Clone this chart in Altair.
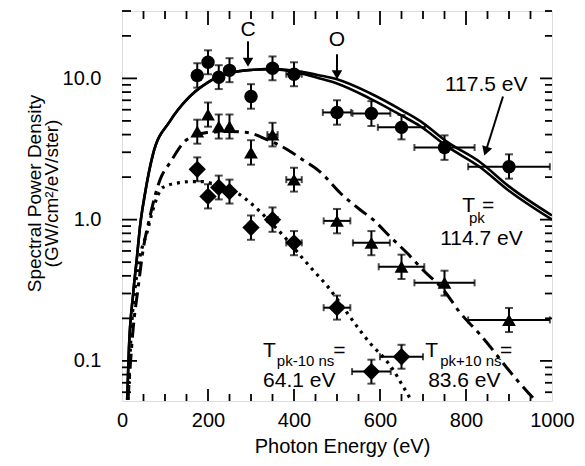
import altair as alt
import pandas as pd

# ---------------- data ----------------
E_pts = [175, 200, 225, 250, 300, 350, 400, 500, 580, 650, 750, 900]

circ_y  = [10.5, 13.0, 10.2, 11.4, 7.45, 11.8, 10.7, 5.74, 5.65, 4.5, 3.24, 2.37]
circ_lo = [8.6, 10.7, 8.4, 9.4, 6.1, 9.7, 8.8, 4.7, 4.6, 3.7, 2.65, 1.95]
circ_hi = [12.8, 15.8, 12.4, 13.9, 9.1, 14.3, 13.0, 7.0, 6.9, 5.5, 3.95, 2.9]
circ_dx = [0, 0, 0, 0, 0, 12, 18, 33, 44, 55, 70, 95]

tri_y  = [4.21, 5.55, 4.57, 4.57, 2.99, 4.0, 1.92, 0.98, 0.685, 0.464, 0.357, 0.195]
tri_lo = [3.45, 4.55, 3.75, 3.75, 2.45, 3.3, 1.58, 0.8, 0.56, 0.38, 0.29, 0.16]
tri_hi = [5.1, 6.75, 5.55, 5.55, 3.65, 4.85, 2.33, 1.19, 0.83, 0.565, 0.435, 0.237]
tri_dx = [0, 0, 0, 0, 0, 12, 18, 31, 43, 53, 70, 95]

E_dia  = [175, 200, 225, 250, 300, 350, 400, 500, 580, 650]
dia_y  = [2.27, 1.46, 1.69, 1.58, 0.88, 1.0, 0.685, 0.238, 0.084, 0.107]
dia_lo = [1.87, 1.2, 1.39, 1.3, 0.72, 0.82, 0.56, 0.196, 0.069, 0.088]
dia_hi = [2.76, 1.78, 2.05, 1.92, 1.07, 1.22, 0.83, 0.29, 0.102, 0.13]
dia_dx = [0, 0, 0, 0, 0, 12, 18, 31, 45, 50]

# fitted curves
solid_E = [12, 16, 26, 35, 42, 53, 72, 112, 151, 198, 251, 305, 351, 402, 460, 500,
           577, 653, 693, 756, 833, 900, 1000]
solid_y = [0.053, 0.12, 0.3, 0.55, 0.9, 1.5, 2.9, 5.0, 7.1, 9.3, 10.9, 11.5, 11.6, 11.1,
           10.0, 9.2, 7.2, 5.4, 4.6, 3.3, 2.35, 1.6, 1.0]
upper_E = solid_E
upper_y = [0.053, 0.12, 0.3, 0.55, 0.9, 1.5, 2.9, 5.0, 7.1, 9.3, 10.9, 11.5, 11.7, 11.3,
           10.5, 9.85, 7.85, 5.9, 5.0, 3.55, 2.55, 1.72, 1.07]
dashdot_E = [14, 20, 26, 37, 49, 65, 88, 112, 151, 198, 251, 291, 337, 384, 419, 460,
             507, 553, 584, 623, 663, 700, 747, 786, 833, 919, 960, 1000]
dashdot_y = [0.053, 0.1, 0.17, 0.32, 0.61, 1.05, 1.9, 2.54, 3.69, 4.14, 4.21, 4.14, 3.69,
             3.14, 2.67, 2.19, 1.55, 1.18, 1.0, 0.76, 0.58, 0.44, 0.32, 0.22, 0.153,
             0.073, 0.053, 0.04]
dotted_E = [14, 23, 30, 42, 58, 72, 95, 135, 165, 188, 228, 267, 298, 321, 351, 384, 414,
            444, 477, 514, 553, 584, 607, 630, 651, 672, 690]
dotted_y = [0.053, 0.19, 0.32, 0.55, 0.81, 1.18, 1.69, 1.83, 1.86, 1.86, 1.72, 1.55, 1.32,
            1.14, 0.92, 0.72, 0.56, 0.44, 0.34, 0.24, 0.165, 0.126, 0.107, 0.087, 0.068,
            0.053, 0.042]

# axis ticks and labels
x_labels = [0, 200, 400, 600, 800, 1000]
x_major_ticks = [200, 400, 600, 800]
x_minor_ticks = [50, 100, 150, 250, 300, 350, 450, 500, 550, 650, 700, 750, 850, 900, 950]
y_labels = [0.1, 1, 10]
y_minor_ticks = [0.06, 0.07, 0.08, 0.09, 0.2, 0.3, 0.4, 0.5, 0.6, 0.7, 0.8, 0.9,
                 2, 3, 4, 5, 6, 7, 8, 9, 20, 30]

# annotations (data coordinates)
big_left = pd.DataFrame({
    "x": [751, 791, 837, 740, 328, 491, 328, 705, 879, 712],
    "y": [8.09, 1.14, 1.14, 0.664, 0.107, 0.107, 0.0655, 0.107, 0.107, 0.0655],
    "t": ["117.5 eV", "T", "=", "114.7 eV", "T", "=", "64.1 eV", "T", "=", "83.6 eV"],
})
subs = pd.DataFrame({
    "x": [807, 360, 740],
    "y": [0.94, 0.092, 0.092],
    "t": ["pk", "pk-10 ns", "pk+10 ns"],
})
edge_lbl = pd.DataFrame({"x": [293, 500], "y": [19.9, 16.9], "t": ["C", "O"]})
edge_arrow = pd.DataFrame({"x": [293, 500], "y1": [18.3, 14.8], "y2": [12.6, 10.3],
                           "yh": [13.0, 10.6]})
fit_arrow = pd.DataFrame({"x1": [886], "y1": [7.45], "x2": [846], "y2": [3.05]})

FONT = "Liberation Sans"

xs = alt.Scale(domain=[0, 1000], nice=False, zero=False)
ys = alt.Scale(type="log", domain=[0.052, 30], nice=False)
xax = alt.Axis(values=x_labels, tickSize=0, domain=False, grid=False, labelFontSize=20,
               labelFont=FONT, labelPadding=9, labelColor="black", format="d",
               title="Photon Energy (eV)", titleFont=FONT, titleFontSize=20,
               titleFontWeight="normal", titleColor="black", titleBaseline="alphabetic",
               titleY=51, titleX=220, labelFlush=False)
yax = alt.Axis(values=y_labels, tickSize=0, domain=False, grid=False, labelFontSize=20,
               labelFont=FONT, labelPadding=21, labelColor="black",
               labelExpr="format(datum.value, '.1f')",
               title=["Spectral Power Density", "(GW/cm²/eV/ster)"], titleFont=FONT,
               titleFontSize=19, titleFontWeight="normal", titleColor="black",
               titleBaseline="alphabetic", titleX=-82, titleY=182, titleLineHeight=17,
               titleAlign="center", titleAngle=-90)


def X(f):
    return alt.X(f, type="quantitative", scale=xs, axis=xax)


def Y(f):
    return alt.Y(f, type="quantitative", scale=ys, axis=yax)


def curve(E, y, dash, width=2.6):
    d = pd.DataFrame({"E": E, "y": y})
    kw = dict(color="black", strokeWidth=width, clip=True, interpolate="monotone")
    if dash:
        kw["strokeDash"] = dash
    return alt.Chart(d).mark_line(**kw).encode(x=X("E"), y=Y("y"))


def series(E, y, lo, hi, dx, shape, size):
    d = pd.DataFrame({"E": E, "y": y, "lo": lo, "hi": hi, "dx": dx})
    d["xl"] = d["E"] - d["dx"]
    d["xh"] = d["E"] + d["dx"]
    dh = d[d["dx"] > 0]
    vb = alt.Chart(d).mark_errorbar(color="black", thickness=2, ticks={"size": 8, "thickness": 2},
                                    clip=True).encode(x=X("E"), y=Y("lo"), y2="hi")
    hb = alt.Chart(dh).mark_errorbar(color="black", thickness=2, ticks={"size": 7, "thickness": 2},
                                     clip=True).encode(x=X("xl"), x2="xh", y=Y("y"))
    pt = alt.Chart(d).mark_point(shape=shape, filled=True, color="black", opacity=1,
                                 size=size).encode(x=X("E"), y=Y("y"))
    return [vb, hb, pt]


layers = []
layers.append(curve(solid_E, solid_y, None))
layers.append(curve(upper_E, upper_y, None))
layers.append(curve(dashdot_E, dashdot_y, [15, 6, 4, 6], 3))
layers.append(curve(dotted_E, dotted_y, [3, 5], 3.2))
layers += series(E_pts, circ_y, circ_lo, circ_hi, circ_dx, "circle", 180)
layers += series(E_pts, tri_y, tri_lo, tri_hi, tri_dx, "triangle-up", 190)
layers += series(E_dia, dia_y, dia_lo, dia_hi, dia_dx, "diamond", 300)

# inward ticks
def xticks(vals, top, length):
    d = pd.DataFrame({"t": vals})
    y0, y1 = (0, length) if top else (390, 390 - length)
    return alt.Chart(d).mark_rule(color="black", strokeWidth=1.8).encode(
        x=X("t"), y=alt.value(y0), y2=alt.value(y1))


def yticks(vals, left, length):
    d = pd.DataFrame({"t": vals})
    x0, x1 = (0, length) if left else (430, 430 - length)
    return alt.Chart(d).mark_rule(color="black", strokeWidth=1.8).encode(
        y=Y("t"), x=alt.value(x0), x2=alt.value(x1))


layers += [xticks(x_major_ticks, True, 14), xticks(x_minor_ticks, True, 8),
           xticks(x_major_ticks, False, 12), xticks(x_minor_ticks, False, 7),
           yticks(y_labels, True, 15), yticks(y_minor_ticks, True, 9),
           yticks(y_labels, False, 12), yticks(y_minor_ticks, False, 7)]

# annotations
layers.append(alt.Chart(big_left).mark_text(align="left", baseline="alphabetic", font=FONT,
                                            fontSize=21, color="black").encode(
    x=X("x"), y=Y("y"), text="t:N"))
layers.append(alt.Chart(subs).mark_text(align="left", baseline="alphabetic", font=FONT,
                                        fontSize=15, color="black").encode(
    x=X("x"), y=Y("y"), text="t:N"))
layers.append(alt.Chart(edge_lbl).mark_text(align="center", baseline="alphabetic", font=FONT,
                                            fontSize=21, color="black").encode(
    x=X("x"), y=Y("y"), text="t:N"))
layers.append(alt.Chart(edge_arrow).mark_rule(color="black", strokeWidth=2).encode(
    x=X("x"), y=Y("y1"), y2="y2"))
layers.append(alt.Chart(edge_arrow).mark_point(shape="triangle-down", filled=True, color="black",
                                               opacity=1, size=110).encode(x=X("x"), y=Y("yh")))
layers.append(alt.Chart(fit_arrow).mark_rule(color="black", strokeWidth=2).encode(
    x=X("x1"), x2="x2", y=Y("y1"), y2="y2"))
layers.append(alt.Chart(fit_arrow).mark_point(shape="triangle-down", filled=True, color="black",
                                              opacity=1, size=110, angle=18).encode(
    x=X("x2"), y=Y("y2")))

chart = alt.layer(*layers).properties(
    width=430, height=390, autosize="none",
    padding={"left": 114, "top": 3, "right": 25, "bottom": 57},
).configure_view(stroke="black", strokeWidth=3).configure(background="white")

chart.save("out.html", embed_options={"renderer": "svg", "actions": False})
